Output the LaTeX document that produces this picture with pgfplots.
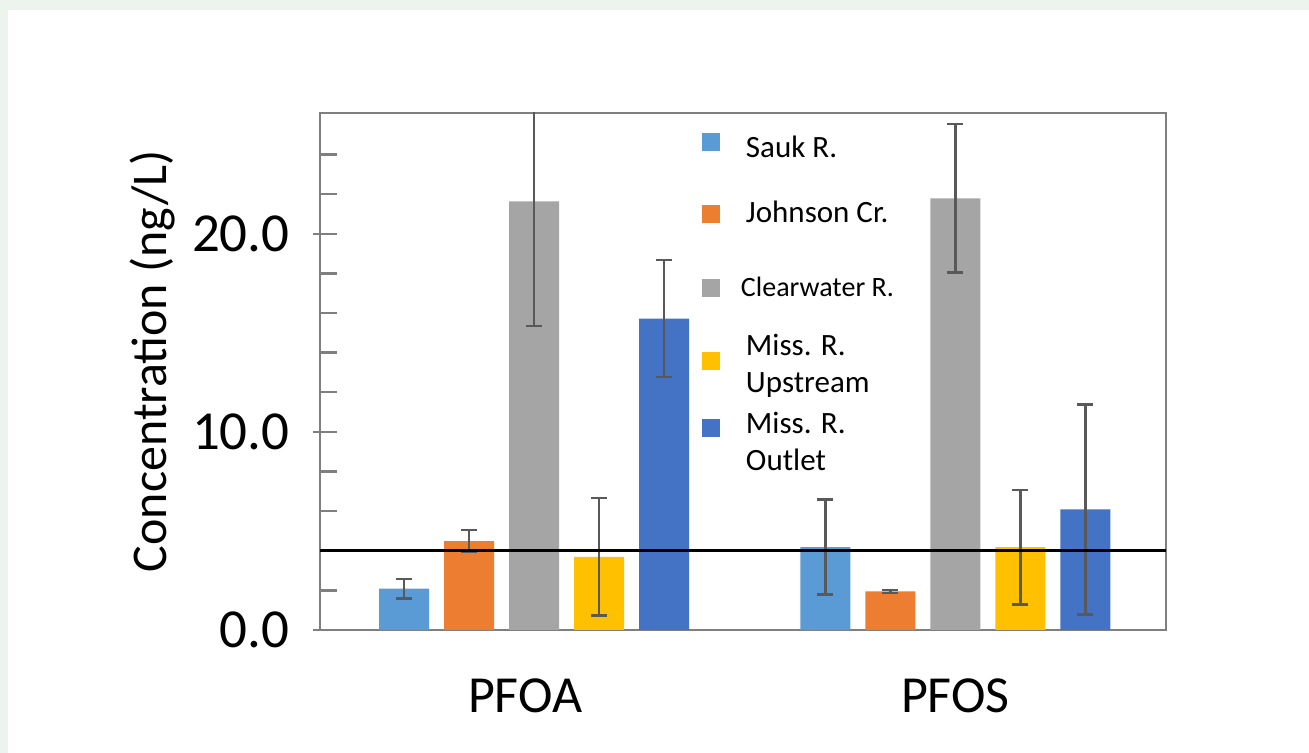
\documentclass[border=0pt]{standalone}
\usepackage{pgfplots}
\pgfplotsset{compat=1.18}
\usepackage{pgfplotstable}
\usepackage{fontspec}
\setmainfont{Carlito}
\definecolor{cSauk}{HTML}{5B9BD5}
\definecolor{cJohn}{HTML}{ED7D31}
\definecolor{cClear}{HTML}{A5A5A5}
\definecolor{cUp}{HTML}{FFC000}
\definecolor{cOut}{HTML}{4472C4}
\definecolor{errgray}{HTML}{595959}
\definecolor{axgray}{HTML}{7F7F7F}
\definecolor{bggreen}{RGB}{237,244,237}

\pgfplotstableread{
x sauk sauke john johne clear cleare up upe out oute
0 2.09 0.49 4.49 0.55 21.64 6.30 3.69 2.97 15.72 2.95
1 4.18 2.40 1.95 0.08 21.79 3.75 4.18 2.90 6.09 5.30
}\data

\pgfplotsset{
  sqleg/.style={legend image code/.code={\fill[##1,draw=none] (0pt,#1-4.5pt) rectangle (9pt,#1+4.5pt);}},
  eb/.style={error bars/.cd, y dir=both, y explicit,
    error bar style={errgray, line width=1.25pt},
    error mark options={errgray, line width=1.25pt, mark size=4pt, rotate=90}},
}
\newcommand{\ent}[2]{\raisebox{#1}[\height][\depth]{\begin{tabular}[t]{@{}l@{}}#2\end{tabular}}}

\begin{document}
\begin{tikzpicture}
\fill[bggreen] (-160pt,-61.5pt) rectangle (494.5pt,315pt);
\fill[white] (-156pt,-61.5pt) rectangle (494.5pt,310pt);
\useasboundingbox (-160pt,-61.5pt) rectangle (494.5pt,315pt);
\begin{axis}[
  at={(0,0)}, anchor=south west,
  scale only axis, width=423pt, height=258.5pt,
  ybar, bar width=25pt,
  xmin=-0.508, xmax=1.5, ymin=0, ymax=26.1,
  xtick={-0.021,1}, xticklabels={PFOA,PFOS},
  xtick style={draw=none},
  ytick={0,10,20}, minor ytick={2,4,6,8,12,14,16,18,22,24},
  ytick pos=left, tick align=inside,
  major tick length=12pt, minor tick length=8.5pt,
  tick style={axgray, line width=1.2pt},
  major tick style={xshift=-3.5pt},
  axis line style={axgray, line width=1.3pt},
  /pgf/number format/.cd, fixed, fixed zerofill, precision=1, assume math mode=true, /pgfplots/.cd,
  yticklabel style={font=\fontsize{27.5}{33}\selectfont, inner sep=0pt, xshift=-15pt},
  xticklabel style={font=\fontsize{26}{31}\selectfont, inner sep=0pt, anchor=north, yshift=-24pt},
  ylabel={Concentration (ng/L)},
  every axis y label/.style={at={(axis description cs:-0.1974,0.52)}, rotate=90, anchor=center, font=\fontsize{25}{30}\selectfont},
  legend style={at={(axis description cs:0.4515,0.9652)}, anchor=north west, draw=none, fill=none,
    inner sep=0pt, outer sep=0pt, row sep=16.5pt, column sep=13pt,
    font=\fontsize{15.5}{18.75}\selectfont, nodes={inner sep=0pt, outer sep=0pt, anchor=base west}, cells={anchor=base west}},
]
\addplot[fill=cSauk, draw=none, bar shift=-65pt, sqleg=7.5pt, eb] table[x=x, y=sauk, y error=sauke]{\data};
\addlegendentry{\ent{0pt}{Sauk R.}}
\addplot[fill=cJohn, draw=none, bar shift=-32.5pt, sqleg=2.9pt, eb] table[x=x, y=john, y error=johne]{\data};
\addlegendentry{\ent{-1.5pt}{Johnson Cr.}}
\addplot[fill=cClear, draw=none, bar shift=0pt, sqleg=-3pt, eb] table[x=x, y=clear, y error=cleare]{\data};
\addlegendentry{\ent{-7.5pt}{\fontsize{14}{17}\selectfont\hspace*{-2.5pt}Clearwater R.}}
\addplot[fill=cUp, draw=none, bar shift=32.5pt, sqleg=-2.5pt, eb] table[x=x, y=up, y error=upe]{\data};
\addlegendentry{\ent{0.5pt}{Miss. R.\\Upstream}}
\addplot[fill=cOut, draw=none, bar shift=65pt, sqleg=0.5pt, eb] table[x=x, y=out, y error=oute]{\data};
\addlegendentry{\ent{-2pt}{Miss. R.\\Outlet}}
\addplot[sharp plot, black, line width=1.4pt, mark=none, forget plot] coordinates {(-0.508,4) (1.5,4)};
\end{axis}
\end{tikzpicture}
\end{document}
